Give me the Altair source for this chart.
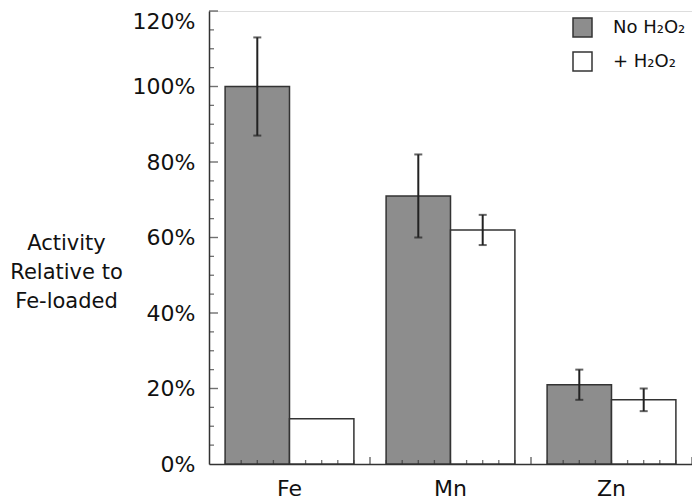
import altair as alt
import pandas as pd

# ---- data ----
metals = ["Fe", "Mn", "Zn"]
series_names = ["No H₂O₂", "+ H₂O₂"]
no_h2o2 = [100, 71, 21]
no_h2o2_err = [13, 11, 4]
plus_h2o2 = [12, 62, 17]
plus_h2o2_err = [None, 4, 3]

y_label_values = [0, 20, 40, 60, 80, 100, 120]
y_major_ticks = [20, 40, 60, 80, 100, 120]
y_minor_ticks = [5, 10, 15, 25, 30, 35, 45, 50, 55, 65, 70, 75, 85, 90, 95,
                 105, 110, 115]
x_minor_ticks = [1, 2, 3, 4, 5, 6, 7, 8, 9, 11, 12, 13, 14, 15, 16, 17, 18, 19,
                 21, 22, 23, 24, 25, 26, 27, 28, 29]
x_major_ticks = [10, 20, 30]

rows = []
for i, m in enumerate(metals):
    for s, vals, errs in ((series_names[0], no_h2o2, no_h2o2_err),
                          (series_names[1], plus_h2o2, plus_h2o2_err)):
        e = errs[i]
        rows.append({
            "metal": m, "series": s, "value": vals[i],
            "lo": None if e is None else vals[i] - e,
            "hi": None if e is None else vals[i] + e,
        })
df = pd.DataFrame(rows)
err_df = df.dropna(subset=["lo"])

FONT = "DejaVu Sans"
INK = "#111111"
W, H = 483, 453

x_scale = alt.Scale(domain=metals, paddingInner=0, paddingOuter=0)
x_axis = alt.Axis(title=None, ticks=False, domain=True, domainColor="#333",
                  domainWidth=1.5, labelFont=FONT, labelFontSize=22,
                  labelColor=INK, labelPadding=14, labelAngle=0, grid=False)
xo_scale = alt.Scale(domain=series_names, paddingInner=0, paddingOuter=0.25)

y_scale = alt.Scale(domain=[0, 120], nice=False, zero=True)
y_axis = alt.Axis(values=y_label_values, labelExpr="datum.value + '%'",
                  labelOffset={"condition": {"test": "datum.value == 120",
                                             "value": 10}, "value": 0},
                  ticks=False, domain=True, domainColor="#333", domainWidth=1.5,
                  labelFont=FONT, labelFontSize=22, labelColor=INK,
                  labelPadding=14, grid=False,
                  title=["Activity", "Relative to", "Fe-loaded"],
                  titleAngle=0, titleAlign="center", titleBaseline="alphabetic",
                  titleX=-143, titleY=238, titleFont=FONT, titleFontSize=21,
                  titleFontWeight="normal", titleColor=INK, titleLineHeight=29)

def xenc():
    return alt.X("metal:N", scale=x_scale, axis=x_axis, sort=metals)

def xoenc():
    return alt.XOffset("series:N", scale=xo_scale, sort=series_names)

bars = alt.Chart(df).mark_bar(stroke="#333", strokeWidth=1.5).encode(
    x=xenc(), xOffset=xoenc(),
    y=alt.Y("value:Q", scale=y_scale, axis=y_axis),
    fill=alt.Fill("series:N", scale=alt.Scale(domain=series_names,
                                              range=["#8d8d8d", "#ffffff"]),
                  legend=alt.Legend(orient="none", legendX=363, legendY=6,
                                    title=None, symbolType="square",
                                    symbolSize=361, symbolStrokeColor="#333",
                                    symbolStrokeWidth=1.5, symbolOpacity=1,
                                    labelFont=FONT, labelFontSize=18,
                                    labelColor=INK, labelOffset=20,
                                    rowPadding=9, padding=0)),
)

err_rule = alt.Chart(err_df).mark_rule(color="#222", strokeWidth=2).encode(
    x=xenc(), xOffset=xoenc(),
    y=alt.Y("lo:Q", scale=y_scale, axis=y_axis), y2="hi:Q",
)
cap_hi = alt.Chart(err_df).mark_tick(orient="horizontal", size=8, thickness=2,
                                     color="#222").encode(
    x=xenc(), xOffset=xoenc(), y=alt.Y("hi:Q", scale=y_scale, axis=y_axis))
cap_lo = alt.Chart(err_df).mark_tick(orient="horizontal", size=8, thickness=2,
                                     color="#222").encode(
    x=xenc(), xOffset=xoenc(), y=alt.Y("lo:Q", scale=y_scale, axis=y_axis))

main = alt.layer(bars, err_rule, cap_hi, cap_lo)

tick_x_scale = alt.Scale(domain=[0, 30], nice=False, zero=True)
xt_minor = alt.Chart(pd.DataFrame({"t": x_minor_ticks})).mark_tick(
    orient="vertical", size=4, thickness=1.3, color="#333").encode(
    x=alt.X("t:Q", scale=tick_x_scale, axis=None), y=alt.value(H - 2))
xt_major = alt.Chart(pd.DataFrame({"t": x_major_ticks})).mark_tick(
    orient="vertical", size=7, thickness=1.5, color="#333").encode(
    x=alt.X("t:Q", scale=tick_x_scale, axis=None), y=alt.value(H - 3.5))
yt_minor = alt.Chart(pd.DataFrame({"t": y_minor_ticks})).mark_tick(
    orient="horizontal", size=5, thickness=1.3, color="#333").encode(
    x=alt.value(2.5), y=alt.Y("t:Q", scale=y_scale, axis=y_axis))
yt_major = alt.Chart(pd.DataFrame({"t": y_major_ticks})).mark_tick(
    orient="horizontal", size=9, thickness=1.4, color="#333").encode(
    x=alt.value(4.5), y=alt.Y("t:Q", scale=y_scale, axis=y_axis))

ticks = alt.layer(xt_minor, xt_major, yt_minor, yt_major)

chart = alt.layer(main, ticks).resolve_scale(x="independent").properties(
    width=W, height=H,
    autosize=alt.AutoSizeParams(type="none"),
    padding={"left": 201, "top": 3, "right": 0, "bottom": 37},
).configure_view(stroke=None).configure(background="white")

chart.save("out.html", embed_options={"renderer": "svg", "actions": False})
